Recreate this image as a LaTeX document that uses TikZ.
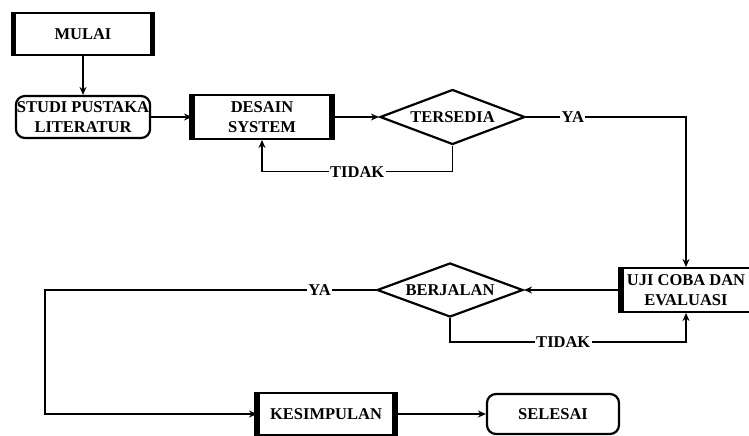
\documentclass[tikz,border=0pt]{standalone}
\usepackage{fontspec}
\setmainfont{Liberation Serif}
\usetikzlibrary{shapes.geometric, arrows.meta}
\usetikzlibrary{positioning}
\tikzstyle{startstop} = [rectangle, rounded corners=9pt, draw=black, line width=2.2pt, align=center, inner sep=1pt]
\tikzstyle{process} = [rectangle, draw=black, line width=2pt, align=center, inner sep=1pt]
\tikzstyle{decision} = [diamond, draw=black, line width=2.2pt, aspect=2.7, inner sep=0pt, align=center]
\tikzstyle{arrow} = [line width=1.6pt, -{Stealth[length=8pt,width=7pt]}]
\tikzstyle{answer} = [fill=white, inner sep=1.5pt]
\tikzstyle{heavyside} = [line width=5.5pt]

\begin{document}
\begin{tikzpicture}[x=1pt, y=-1pt, font=\fontsize{16.5}{20}\selectfont\bfseries]
    \useasboundingbox (0,0) rectangle (749,436);

        \node (mulai) [process, minimum width=137pt, minimum height=42pt] at (83,34) {MULAI};
        \node (studi) [startstop, minimum width=131pt, minimum height=42pt] at (83,117) {STUDI PUSTAKA\\LITERATUR};
        \node (desain) [process, minimum width=138pt, minimum height=44pt] at (262,117) {DESAIN\\SYSTEM};
        \node (tersedia) [decision, minimum width=145pt, minimum height=55pt] at (452.5,117) {TERSEDIA};

        \node (uji) [process, minimum width=128pt, minimum height=44pt] at (686,290) {UJI COBA DAN\\EVALUASI};
        \node (berjalan) [decision, minimum width=146pt, minimum height=54pt] at (450,290) {BERJALAN};

        \node (kesimpulan) [process, minimum width=136pt, minimum height=42pt] at (326,414) {KESIMPULAN};
        \node (selesai) [startstop, minimum width=132pt, minimum height=40pt] at (553,414) {SELESAI};

        % thick sides of the boxes
        \foreach \b in {mulai, desain, uji, kesimpulan}
            \draw [heavyside] (\b.north west) -- (\b.south west);
        \foreach \b in {mulai, desain, kesimpulan}
            \draw [heavyside] (\b.north east) -- (\b.south east);

        \coordinate (turn) at (45,290);

        \draw [arrow] (mulai) -- (studi);
        \draw [arrow] (studi) -- (desain);
        \draw [arrow] (desain) -- (tersedia);
        \draw [arrow] (tersedia.east) -| node [answer, pos=0.146] {YA} (uji.north);
        \draw [arrow] (tersedia.south) -- ++(0,26) -| node [answer, pos=0.25] {TIDAK} (desain.south);

        \draw [arrow] (uji) -- (berjalan);
        \draw [arrow] (berjalan.south) -- ++(0,24) -| node [answer, pos=0.24] {TIDAK} (uji.south);
        \draw [arrow] (berjalan.west) -- node [answer, pos=0.17] {YA} (turn) |- (kesimpulan.west);

        \draw [arrow] (kesimpulan) -- (selesai);

\end{tikzpicture}
\end{document}
